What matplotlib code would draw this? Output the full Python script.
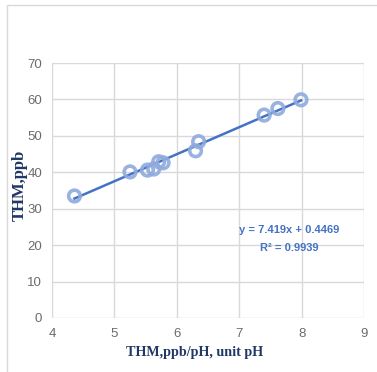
import matplotlib
matplotlib.use("Agg")
import matplotlib.pyplot as plt
from matplotlib.patches import Rectangle
import numpy as np

# data
ratio = [4.36, 5.25, 5.53, 5.63, 5.71, 5.78, 6.30, 6.35, 7.40, 7.62, 7.99]
thm = [33.5, 40.1, 40.6, 40.9, 42.9, 42.6, 45.9, 48.4, 55.7, 57.5, 59.9]
slope, intercept = 7.419, 0.4469
x_ticks = [4, 5, 6, 7, 8, 9]
y_ticks = [0, 10, 20, 30, 40, 50, 60, 70]

sans = ["Liberation Sans Narrow", "Liberation Sans", "DejaVu Sans"]
serif = ["Liberation Serif", "DejaVu Serif"]

fig = plt.figure(figsize=(3.77, 3.72), dpi=100)
fig.patch.set_facecolor("white")

# outer chart border (cut off on the right and bottom)
fig.patches.append(Rectangle((7 / 377, -0.1), 1.2, 1 - 5 / 372 + 0.1,
                             transform=fig.transFigure, fill=False,
                             edgecolor="#d9d9d9", linewidth=1.0))

ax = fig.add_axes([52 / 377, 1 - 318 / 372, 312 / 377, 255 / 372])
ax.set_xlim(4, 9)
ax.set_ylim(0, 70)
ax.set_xticks(x_ticks)
ax.set_yticks(y_ticks)
ax.grid(True, color="#d9d9d9", linewidth=1.0)
ax.set_axisbelow(True)
for s in ax.spines.values():
    s.set_visible(False)
ax.tick_params(length=0, labelsize=9.5, labelcolor="#6b6b6b", pad=7)
for lab in ax.get_xticklabels() + ax.get_yticklabels():
    lab.set_family(sans)

# trendline
xs = np.array([min(ratio), max(ratio)])
ax.plot(xs, slope * xs + intercept, color="#4472c4", linewidth=1.8, zorder=3)

ax.scatter(ratio, thm, s=70, facecolors="none", edgecolors="#8faadc",
           linewidths=2.6, zorder=4, alpha=0.9)

ax.text(7.8, 24.2, f"y = {slope}x + {intercept}", ha="center", va="center",
        color="#4472c4", fontsize=8, fontweight="bold", family=sans)
ax.text(7.8, 19.2, "R² = 0.9939", ha="center", va="center",
        color="#4472c4", fontsize=8, fontweight="bold", family=sans)

ax.set_xlabel("THM,ppb/pH, unit pH", color="#1f3864", fontsize=10.2,
              fontweight="bold", family=serif)
ax.set_ylabel("THM,ppb", color="#1f3864", fontsize=12,
              fontweight="bold", family=serif)
ax.xaxis.set_label_coords(0.458, -0.11)
ax.yaxis.set_label_coords(-0.077, 0.52)

fig.savefig("out.png", dpi=100)
